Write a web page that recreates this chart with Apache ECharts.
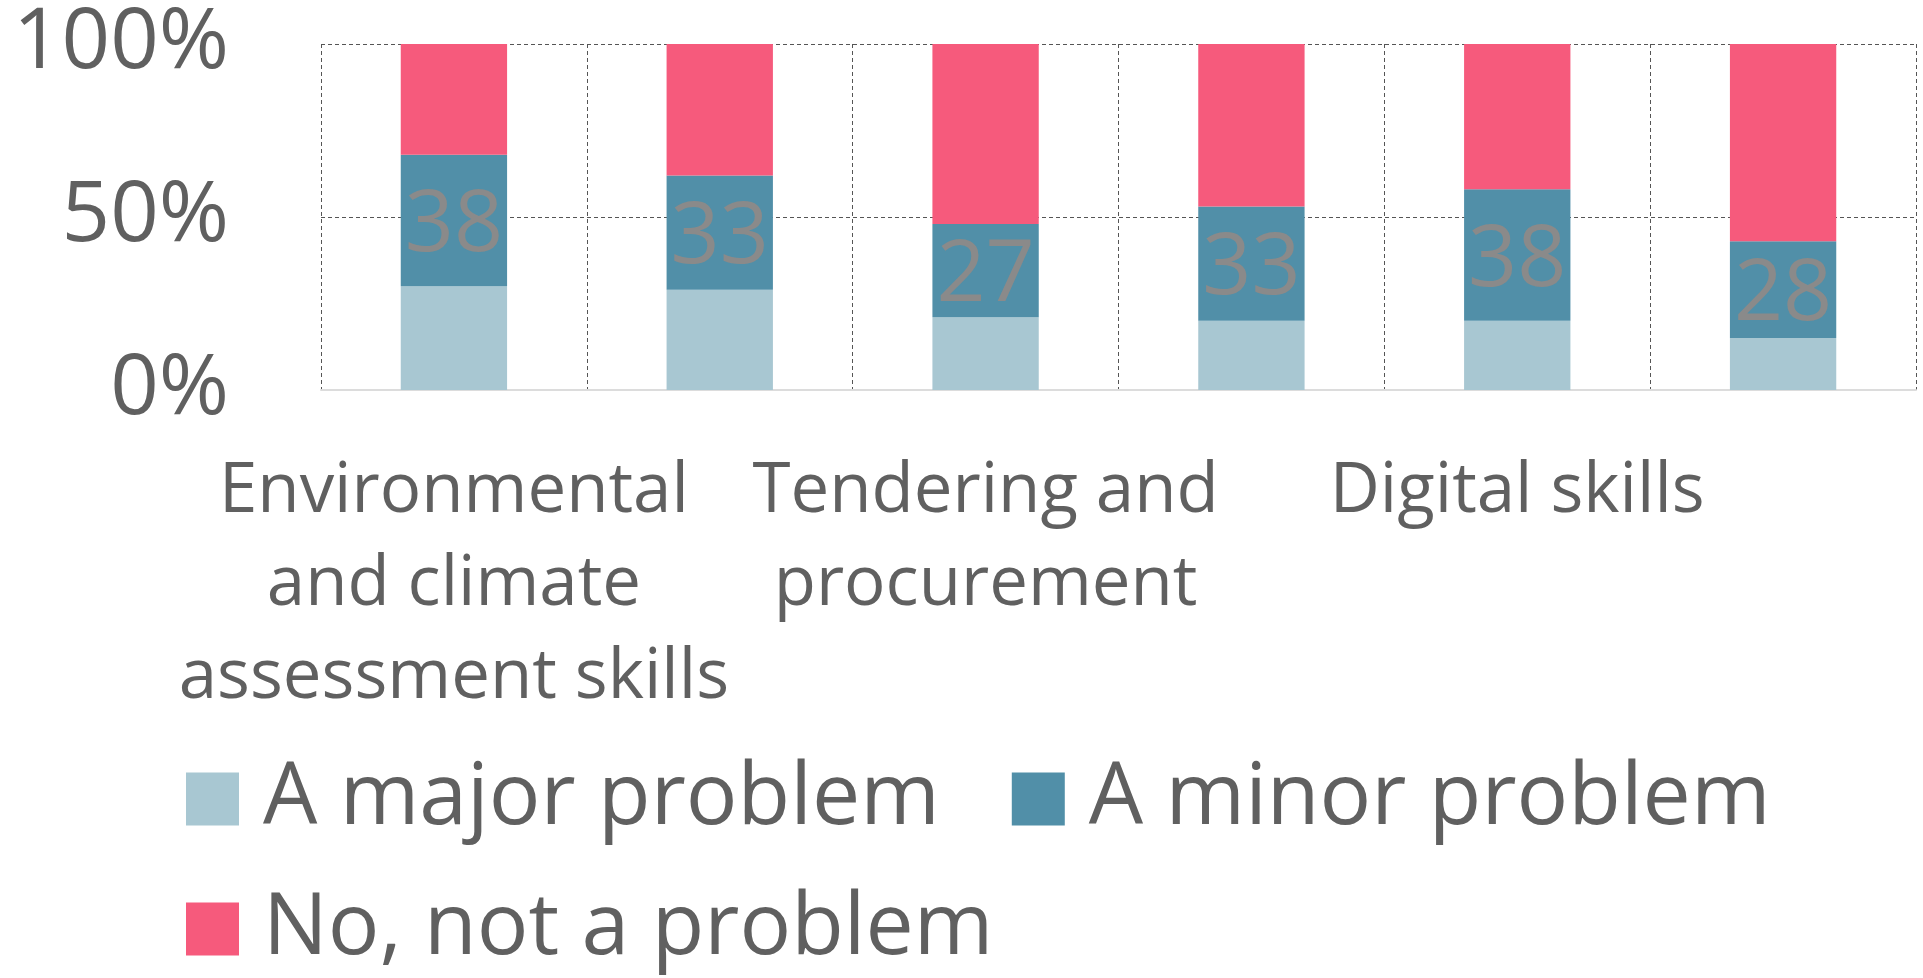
<!DOCTYPE html>
<html>
<head>
<meta charset="utf-8">
<script src="https://cdn.jsdelivr.net/npm/echarts@6/dist/echarts.min.js"></script>
<style>
html,body{margin:0;padding:0;background:#fff;}
#chart{width:1923px;height:978px;}
</style>
</head>
<body>
<div id="chart"></div>
<script>
const categories = [
  "Environmental\nand climate\nassessment skills",
  "Category 2",
  "Tendering and\nprocurement",
  "Category 4",
  "Digital skills",
  "Category 6"
];
const seriesNames = ["A major problem", "A minor problem", "No, not a problem"];
const majorProblem = [30, 29, 21, 20, 20, 15];
const minorProblem = [38, 33, 27, 33, 38, 28];
const notProblem   = [32, 38, 52, 47, 42, 57];
const yTicks = [0, 50, 100];

const FONT = "'Open Sans', sans-serif";
const TEXT = '#606060';
const colors = ['#A8C7D2', '#518FA8', '#F65A7C'];
const GRIDLINE = { color: '#555', type: [4, 3], width: 1 };

const chart = echarts.init(document.getElementById('chart'));
chart.setOption({
  animation: false,
  textStyle: { fontFamily: FONT },
  grid: { left: 321, right: 7, top: 44, bottom: 588, containLabel: false },
  legend: [
    {
      data: [seriesNames[0], seriesNames[1]],
      left: 181, top: 751,
      itemWidth: 53, itemHeight: 53, itemGap: 72,
      icon: 'rect',
      textStyle: { fontSize: 86, color: TEXT, fontFamily: FONT, padding: [0, 0, 0, 19] }
    },
    {
      data: [seriesNames[2]],
      left: 181, top: 881,
      itemWidth: 53, itemHeight: 53,
      icon: 'rect',
      textStyle: { fontSize: 86, color: TEXT, fontFamily: FONT, padding: [0, 0, 0, 19] }
    }
  ],
  xAxis: {
    type: 'category',
    data: categories,
    axisLine: { show: true, lineStyle: { color: '#dcdcdc', width: 2 } },
    axisTick: { show: false },
    axisLabel: {
      interval: 1,
      fontSize: 69,
      lineHeight: 93,
      color: TEXT,
      fontFamily: FONT,
      margin: 56,
      align: 'center'
    },
    splitLine: { show: true, interval: 0, lineStyle: GRIDLINE }
  },
  yAxis: {
    type: 'value',
    min: 0, max: 100, interval: 50,
    axisLine: { show: false },
    axisTick: { show: false },
    axisLabel: {
      formatter: v => yTicks.includes(v) ? v + '%' : '',
      fontSize: 85,
      color: TEXT,
      fontFamily: FONT,
      margin: 92
    },
    splitLine: { show: true, lineStyle: GRIDLINE }
  },
  series: [
    {
      name: seriesNames[0], type: 'bar', stack: 'total', barWidth: '40%',
      itemStyle: { color: colors[0] },
      data: majorProblem
    },
    {
      name: seriesNames[1], type: 'bar', stack: 'total', barWidth: '40%',
      itemStyle: { color: colors[1] },
      label: { show: true, position: 'inside', offset: [0, 6], color: '#8a8a8a', fontSize: 86, fontFamily: FONT },
      data: minorProblem
    },
    {
      name: seriesNames[2], type: 'bar', stack: 'total', barWidth: '40%',
      itemStyle: { color: colors[2] },
      data: notProblem
    }
  ]
});
</script>
</body>
</html>
